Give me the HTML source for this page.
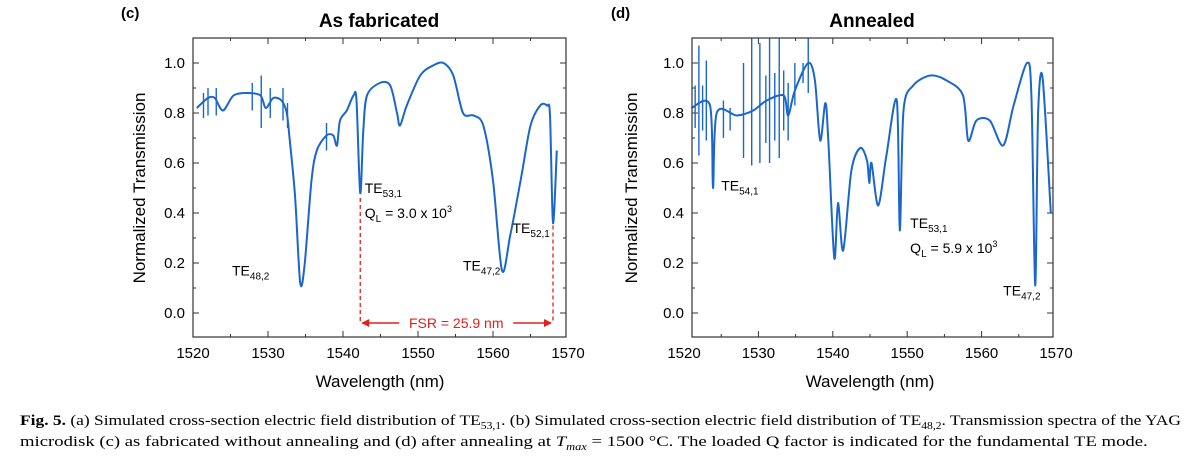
<!DOCTYPE html>
<html><head><meta charset="utf-8"><style>
body{margin:0;background:#fff;}
svg{display:block;font-family:"Liberation Sans",sans-serif;}
</style></head><body>
<svg id="fig" width="1200" height="464" viewBox="0 0 1200 464">
<text x="121" y="18" font-size="15" font-weight="bold">(c)</text>
<text x="379" y="27" font-size="19" font-weight="bold" text-anchor="middle">As fabricated</text>
<text x="611" y="18" font-size="15" font-weight="bold">(d)</text>
<text x="872" y="27" font-size="19" font-weight="bold" text-anchor="middle">Annealed</text>
<text transform="translate(145,188) rotate(-90)" font-size="17" text-anchor="middle">Normalized Transmission</text>
<text transform="translate(637,188) rotate(-90)" font-size="17" text-anchor="middle">Normalized Transmission</text>
<text x="380" y="387" font-size="17" text-anchor="middle">Wavelength (nm)</text>
<text x="870" y="387" font-size="17" text-anchor="middle">Wavelength (nm)</text>
<g font-family="'Liberation Serif',serif" font-size="15">
<g id="cap1g"><text id="cap1" x="0" y="425"><tspan font-weight="bold">Fig. 5.</tspan> (a) Simulated cross-section electric field distribution of TE<tspan font-size="10" dy="4">53,1</tspan><tspan dy="-4">. (b) Simulated cross-section electric field distribution of TE</tspan><tspan font-size="10" dy="4">48,2</tspan><tspan dy="-4">. Transmission spectra of the YAG</tspan></text></g>
<g id="cap2g"><text id="cap2" x="0" y="446">microdisk (c) as fabricated without annealing and (d) after annealing at <tspan font-style="italic">T</tspan><tspan font-style="italic" font-size="10" dy="4">max</tspan><tspan dy="-4"> = 1500 °C. The loaded Q factor is indicated for the fundamental TE mode.</tspan></text></g>
</g>
</svg>
<script>
const cWl=[1520.5,1522.0,1522.9,1524.0,1525.4,1527.2,1529.0,1529.7,1530.7,1531.8,1532.5,1532.9,1533.6,1534.3,1534.9,1535.8,1536.5,1537.8,1538.7,1539.2,1539.6,1540.5,1541.4,1541.8,1542.3,1542.7,1543.2,1544.9,1546.3,1547.2,1547.6,1548.5,1550.3,1552.0,1553.4,1554.7,1556.0,1557.4,1558.7,1560.0,1561.2,1562.3,1563.8,1565.0,1566.3,1567.2,1567.6,1568.0,1568.5];
const cT=[0.82,0.86,0.86,0.81,0.87,0.88,0.87,0.82,0.86,0.85,0.80,0.69,0.47,0.12,0.20,0.53,0.65,0.71,0.71,0.67,0.77,0.81,0.87,0.85,0.48,0.73,0.87,0.92,0.91,0.80,0.75,0.83,0.95,0.99,1.00,0.95,0.80,0.79,0.75,0.53,0.17,0.31,0.55,0.75,0.83,0.83,0.79,0.36,0.65];
const cSpikeWl=[1521.4,1522.0,1523.1,1527.9,1529.1,1530.3,1532.0,1532.6,1537.8];
const cSpikeTop=[0.88,0.90,0.90,0.92,0.95,0.90,0.90,0.84,0.76];
const cSpikeBot=[0.78,0.79,0.79,0.81,0.74,0.78,0.77,0.74,0.65];
const dWl=[1521.0,1523.5,1523.9,1524.4,1527.1,1529.3,1531.1,1533.4,1534.0,1534.9,1536.7,1537.6,1538.3,1539.0,1539.4,1540.2,1540.7,1541.4,1542.5,1543.7,1544.6,1544.9,1545.2,1546.1,1547.2,1548.6,1549.0,1549.5,1550.8,1553.1,1555.3,1557.5,1558.2,1559.3,1561.1,1562.9,1564.3,1566.1,1566.7,1567.2,1567.6,1568.2,1569.3];
const dT=[0.82,0.83,0.50,0.80,0.79,0.81,0.85,0.87,0.79,0.89,1.00,0.93,0.69,0.84,0.69,0.22,0.44,0.25,0.57,0.66,0.61,0.52,0.60,0.43,0.63,0.85,0.33,0.81,0.91,0.95,0.93,0.87,0.69,0.77,0.77,0.67,0.83,1.00,0.87,0.11,0.80,0.94,0.40];
const dSpikeWl=[1521.5,1522.0,1522.5,1523.0,1525.3,1526.2,1528.0,1529.1,1530.2,1531.0,1531.5,1532.2,1532.8,1533.4,1534.0,1534.9,1536.0,1536.7];
const dSpikeTop=[0.91,1.07,0.91,1.01,0.85,0.82,1.00,1.10,1.08,0.95,1.10,0.96,1.10,0.97,0.92,1.00,1.00,1.10];
const dSpikeBot=[0.74,0.63,0.73,0.69,0.70,0.73,0.62,0.59,0.60,0.68,0.60,0.69,0.62,0.73,0.69,0.83,0.92,0.88];
const xTicks=[1520,1530,1540,1550,1560,1570];
const yTicks=[0.0,0.2,0.4,0.6,0.8,1.0];
const NS='http://www.w3.org/2000/svg';
const svg=document.getElementById('fig');
function mk(tag,attrs,parent){const e=document.createElementNS(NS,tag);for(const k in attrs)e.setAttribute(k,attrs[k]);(parent||svg).appendChild(e);return e;}
function smooth(pts){let d='M'+pts[0][0].toFixed(1)+','+pts[0][1].toFixed(1);
  for(let i=0;i<pts.length-1;i++){const p0=pts[Math.max(i-1,0)],p1=pts[i],p2=pts[i+1],p3=pts[Math.min(i+2,pts.length-1)];
    const k=0.15;
    const c1=[p1[0]+(p2[0]-p0[0])*k,p1[1]+(p2[1]-p0[1])*k],c2=[p2[0]-(p3[0]-p1[0])*k,p2[1]-(p3[1]-p1[1])*k];
    d+=` C${c1[0].toFixed(1)},${c1[1].toFixed(1)} ${c2[0].toFixed(1)},${c2[1].toFixed(1)} ${p2[0].toFixed(1)},${p2[1].toFixed(1)}`;}
  return d;}
function panel(id,x0px,x1px,fl,fr,wl,t,sw,st,sb){
  const sx=v=>x0px+(v-1520)*(x1px-x0px)/50;
  const sy=v=>313-v*250;
  const g=mk('g',{});
  
  
  const top=38,bot=337;
  for(let v=1520;v<=1570;v+=5){const X=sx(v);if(X<fl-0.5||X>fr+0.5)continue;const L=v%10===0?6:3;
    mk('line',{x1:X,y1:bot,x2:X,y2:bot-L,stroke:'#333','stroke-width':1},g);mk('line',{x1:X,y1:top,x2:X,y2:top+L,stroke:'#333','stroke-width':1},g);}
  for(let i=0;i<=11;i++){const v=i*0.1;const Y=sy(v);const L=i%2===0?6:3;
    mk('line',{x1:fl,y1:Y,x2:fl+L,y2:Y,stroke:'#333','stroke-width':1},g);mk('line',{x1:fr,y1:Y,x2:fr-L,y2:Y,stroke:'#333','stroke-width':1},g);}
  xTicks.forEach(v=>{const tx=mk('text',{x:sx(v),y:358,'font-size':15,'text-anchor':'middle'},g);tx.textContent=v;
    
    });
  yTicks.forEach(v=>{const tx=mk('text',{x:fl-8,y:sy(v)+5,'font-size':15,'text-anchor':'end'},g);tx.textContent=v.toFixed(1);
    
    });
  for(let i=0;i<sw.length;i++){const l=mk('line',{x1:sx(sw[i]),x2:sx(sw[i]),y1:Math.max(sy(st[i]),top),y2:sy(sb[i]),stroke:'#1a66cc','stroke-width':1.4},g);
    
    }
  const pts=wl.map((w,i)=>[sx(w),sy(t[i])]);
  const p=mk('path',{d:smooth(pts),fill:'none',stroke:'#1a66cc','stroke-width':2,'stroke-linejoin':'round'},g);
  
  
  const fr_=mk('rect',{x:fl,y:top,width:fr-fl,height:bot-top,fill:'none',stroke:'#333','stroke-width':1.2},g);
  
  
  return {sx,sy,g};
}
const c=panel('c',193,568,193,566,cWl,cT,cSpikeWl,cSpikeTop,cSpikeBot);
const d=panel('d',684,1056,692,1053,dWl,dT,dSpikeWl,dSpikeTop,dSpikeBot);
function lbl(P,wl,y,html,name){const t=mk('text',{x:P.sx(wl),y:P.sy(y),'font-size':14},P.g);
  t.innerHTML=html;
  
  }
const S=s=>'<tspan font-size="10" dy="4">'+s+'</tspan>';
const Q=v=>'Q'+S('L')+'<tspan dy="-4"> = '+v+' x 10</tspan><tspan font-size="9" dy="-6">3</tspan>';
lbl(c,1525.2,0.15,'TE'+S('48,2'),'mode-label');
lbl(c,1542.9,0.48,'TE'+S('53,1'),'mode-label');
lbl(c,1542.9,0.38,Q('3.0'),'q-value-c');
lbl(c,1556.0,0.17,'TE'+S('47,2'),'mode-label');
lbl(c,1562.6,0.32,'TE'+S('52,1'),'mode-label');
lbl(d,1525.0,0.49,'TE'+S('54,1'),'mode-label');
lbl(d,1550.4,0.34,'TE'+S('53,1'),'mode-label');
lbl(d,1550.4,0.24,Q('5.9'),'q-value-d');
lbl(d,1562.9,0.07,'TE'+S('47,2'),'mode-label');
const fsrL=1542.3,fsrR=1568.0,fsrY=-0.04;
const red='#e0201b';
mk('line',{x1:c.sx(fsrL),x2:c.sx(fsrL),y1:c.sy(0.46),y2:c.sy(fsrY),stroke:red,'stroke-width':1.3,'stroke-dasharray':'4,3'},c.g);
mk('line',{x1:c.sx(fsrR),x2:c.sx(fsrR),y1:c.sy(0.35),y2:c.sy(fsrY),stroke:red,'stroke-width':1.3,'stroke-dasharray':'4,3'},c.g);
const Y=c.sy(fsrY);
mk('line',{x1:c.sx(fsrL)+2,x2:c.sx(1547.5),y1:Y,y2:Y,stroke:red,'stroke-width':1.5},c.g);
mk('line',{x1:c.sx(1562.7),x2:c.sx(fsrR)-2,y1:Y,y2:Y,stroke:red,'stroke-width':1.5},c.g);
mk('path',{d:`M${c.sx(fsrL)+1},${Y} l8,-4 v8 z`,fill:red},c.g);
mk('path',{d:`M${c.sx(fsrR)-1},${Y} l-8,-4 v8 z`,fill:red},c.g);
const ft=mk('text',{x:c.sx(1555.1),y:Y+5,'font-size':14,'text-anchor':'middle',fill:red},c.g);ft.textContent='FSR = 25.9 nm';


[['cap1g','cap1',1162],['cap2g','cap2',1128]].forEach(([gid,tid,w])=>{
  const L=document.getElementById(tid).getComputedTextLength();
  document.getElementById(gid).setAttribute('transform',`translate(20,0) scale(${(w/L).toFixed(4)},1)`);
});
</script>
</body></html>
